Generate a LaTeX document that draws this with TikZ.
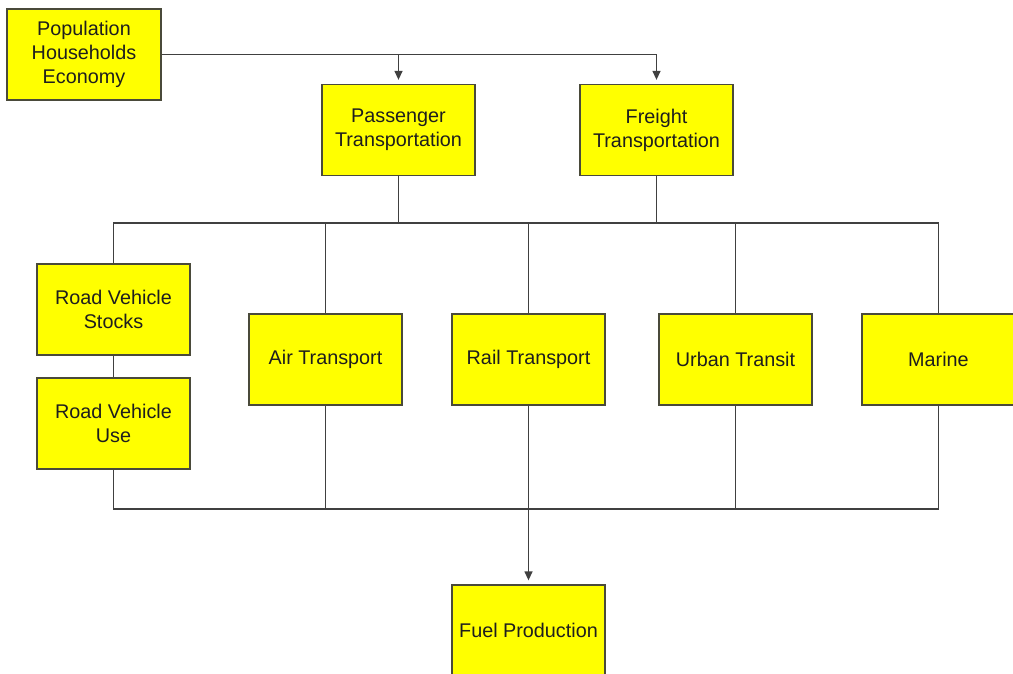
\documentclass[tikz,border=0pt]{standalone}
\usepackage{fontspec}
\setmainfont{Liberation Sans}
\usetikzlibrary{arrows.meta}
\definecolor{boxfill}{HTML}{FFFF00}
\definecolor{boxline}{HTML}{4A4A3A}
\definecolor{wire}{HTML}{404040}
\definecolor{ink}{HTML}{1E1E1E}
\tikzset{
  block/.style={draw=boxline, line width=1.3pt, fill=boxfill, text=ink,
    minimum width=153pt, minimum height=91pt, inner sep=0pt, align=center,
    font=\fontsize{19.8}{24}\selectfont},
  wireline/.style={draw=wire, line width=1.3pt},
  flow/.style={wireline, -{Triangle[width=8pt,length=9pt]}, shorten >=4pt}
}
\begin{document}
\begin{tikzpicture}[x=1pt,y=-1pt]
\useasboundingbox (0,0) rectangle (1013,673);
\clip (0,0) rectangle (1013,673);

% drivers and demand sectors
\node[block, minimum width=154pt] (pop) at (84,54.5) {Population\\Households\\Economy};
\node[block] (pass) at (398.5,130) {Passenger\\Transportation};
\node[block] (fr) at (656.5,130) {Freight\\Transportation};

% transport modules
\node[block] (stocks) at (113.5,309.5) {Road Vehicle\\Stocks};
\node[block] (use) at (113.5,423.5) {Road Vehicle\\Use};
\node[block] (air) at (325.5,359.5) {Air Transport};
\node[block] (rail) at (528.5,359.5) {Rail Transport};
\node[block] (urban) at (735.5,359.5) {Urban Transit};
\node[block] (marine) at (938.5,359.5) {Marine};

% supply side
\node[block] (fuel) at (528.5,630.5) {Fuel Production};

% bus rails
\coordinate (topbus) at (0,223);
\coordinate (botbus) at (0,509);

% drivers feed both demand sectors
\draw[wireline] (pop.east) -- (fr.north |- pop.east);
\draw[flow] (pass.north |- pop.east) -- (pass.north);
\draw[flow] (fr.north |- pop.east) -- (fr.north);

% demand sectors onto the upper bus
\draw[wireline] (pass.south) -- (pass.south |- topbus);
\draw[wireline] (fr.south) -- (fr.south |- topbus);
\draw[wireline] (stocks.north) -- (stocks.north |- topbus) -- (marine.north |- topbus) -- (marine.north);
\draw[wireline] (air.north) -- (air.north |- topbus);
\draw[wireline] (rail.north) -- (rail.north |- topbus);
\draw[wireline] (urban.north) -- (urban.north |- topbus);

% road chain
\draw[wireline] (stocks.south) -- (use.north);

% modules onto the lower bus
\draw[wireline] (use.south) -- (use.south |- botbus) -- (marine.south |- botbus) -- (marine.south);
\draw[wireline] (air.south) -- (air.south |- botbus);
\draw[wireline] (urban.south) -- (urban.south |- botbus);
\draw[flow] (rail.south) -- (fuel.north);
\end{tikzpicture}
\end{document}
